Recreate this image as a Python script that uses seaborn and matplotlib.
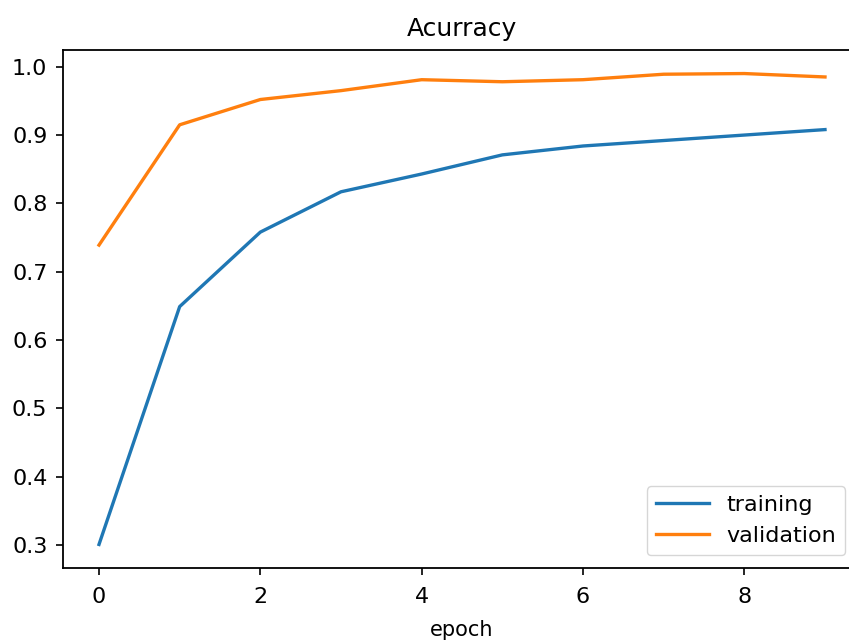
import matplotlib
matplotlib.use("Agg")
import matplotlib.pyplot as plt
import seaborn as sns
import pandas as pd

epochs = [0, 1, 2, 3, 4, 5, 6, 7, 8, 9]
training = [0.301, 0.649, 0.758, 0.817, 0.843, 0.871, 0.884, 0.892, 0.900, 0.908]
validation = [0.739, 0.915, 0.952, 0.965, 0.981, 0.978, 0.981, 0.989, 0.990, 0.985]
series_names = ["training", "validation"]
colors = ["#1f77b4", "#ff7f0e"]

df = pd.DataFrame({
    "epoch": epochs * 2,
    "value": training + validation,
    "series": [series_names[0]] * len(epochs) + [series_names[1]] * len(epochs),
})

fig = plt.figure(figsize=(8.49, 6.42), dpi=100)
ax = fig.add_axes([62.7 / 849, 1 - 568 / 642, (861.3 - 62.7) / 849, (568 - 50) / 642])
sns.lineplot(data=df, x="epoch", y="value", hue="series", palette=colors,
             linewidth=2.4, ax=ax)

ax.set_title("Acurracy", fontsize=18, pad=10)
ax.set_xlabel("epoch", fontsize=15, labelpad=9)
ax.set_ylabel("")
ax.set_xticks([0, 2, 4, 6, 8])
ax.set_yticks([0.3, 0.4, 0.5, 0.6, 0.7, 0.8, 0.9, 1.0])
ax.set_yticklabels(["0.3", "0.4", "0.5", "0.6", "0.7", "0.8", "0.9", "1.0"])
ax.tick_params(labelsize=16, length=5, width=1.2, pad=6)
ax.tick_params(axis="x", pad=9)
for s in ax.spines.values():
    s.set_linewidth(1.3)
ax.spines["right"].set_visible(False)

leg = ax.legend(loc="lower right", bbox_to_anchor=(0.98, 0.025), borderaxespad=0,
                fontsize=16, frameon=True, handlelength=2.4)

fig.savefig("out.png", dpi=100)
